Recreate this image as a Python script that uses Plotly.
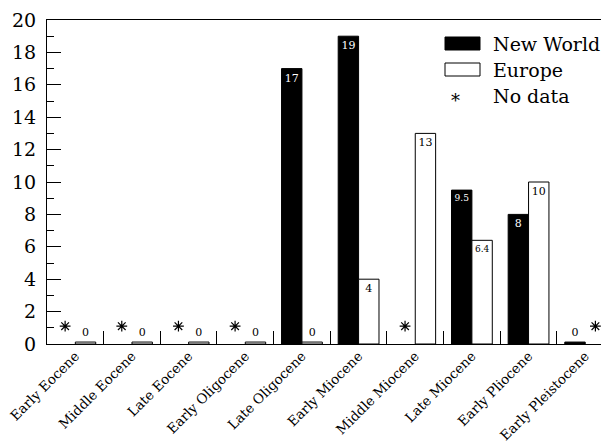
import plotly.graph_objects as go

categories = ["Early Eocene", "Middle Eocene", "Late Eocene", "Early Oligocene",
              "Late Oligocene", "Early Miocene", "Middle Miocene", "Late Miocene",
              "Early Pliocene", "Early Pleistocene"]
new_world = [None, None, None, None, 17, 19, None, 9.5, 8, 0]
europe = [0, 0, 0, 0, 0, 4, 13, 6.4, 10, None]
y_ticks = [0, 2, 4, 6, 8, 10, 12, 14, 16, 18, 20]

FONT = "DejaVu Serif"
OFF = 8  # page body margin of the browser
W, H = 609 - OFF, 447 - OFF
L, T, B = 47 - OFF, 20 - OFF, 447 - 344
PW, PH = W - L, H - T - B
ZERO_VIS = 0.12  # visual minimum height for zero-valued bars

def px2paper(x, y):
    # x, y in page pixels of the target
    return (x - OFF - L) / PW, (H - B - (y - OFF)) / PH

def fmt(v):
    return f"{v:g}"

xs = list(range(len(categories)))
fig = go.Figure()

def bar_trace(vals, color, txtcol, name, group):
    show_x, show_y, texts, pos = [], [], [], []
    for i, v in enumerate(vals):
        if v is None:
            continue
        show_x.append(i)
        show_y.append(v if v > 0 else ZERO_VIS)
        texts.append(fmt(v))
        pos.append("inside" if v > 0 else "outside")
    return go.Bar(x=show_x, y=show_y, text=texts, textposition=pos,
                  insidetextanchor="end", name=name, offsetgroup=group,
                  marker=dict(color=color, line=dict(color="black", width=1)),
                  insidetextfont=dict(color=txtcol, family=FONT, size=11),
                  outsidetextfont=dict(color="black", family=FONT, size=11),
                  textangle=0, cliponaxis=False, showlegend=False,
                  hoverinfo="skip")

fig.add_trace(bar_trace(new_world, "black", "white", "New World", "nw"))
fig.add_trace(bar_trace(europe, "white", "black", "Europe", "eu"))

# No-data markers: placed in the slot of the missing series
half = (1 - 0.28) / 4
nd_x = [i - half for i, v in enumerate(new_world) if v is None] + \
       [i + half for i, v in enumerate(europe) if v is None]
fig.add_trace(go.Scatter(x=nd_x, y=[1.1] * len(nd_x), mode="markers",
                         marker=dict(symbol="asterisk-open", size=9, color="black",
                                     line=dict(color="black", width=1.2)),
                         showlegend=False, hoverinfo="skip", cliponaxis=False))

fig.update_layout(
    width=W, height=H, margin=dict(l=L, r=0, t=T, b=B, autoexpand=False),
    paper_bgcolor="white", plot_bgcolor="white",
    barmode="group", bargap=0.28, bargroupgap=0,
    font=dict(family=FONT, color="black"),
    xaxis=dict(range=[-0.5, 9.42], tickmode="array", tickvals=xs,
               ticktext=categories, tickangle=-45, ticks="", automargin=False,
               tickfont=dict(size=13.5, family=FONT), ticklabelstandoff=-2,
               ticklabeloverflow="allow",
               showline=True, linecolor="black", linewidth=1, mirror=True,
               showgrid=False, zeroline=False,
               minor=dict(tickmode="array", tickvals=[i + 0.5 for i in xs],
                          ticks="inside", ticklen=13, tickcolor="black",
                          tickwidth=1, showgrid=False)),
    yaxis=dict(range=[0, 20], tickmode="array", tickvals=y_ticks,
               ticks="inside", ticklen=14, tickcolor="black", automargin=False,
               tickfont=dict(size=19, family=FONT), ticklabelstandoff=6,
               showline=True, linecolor="black", linewidth=1,
               showgrid=False, zeroline=False,
               minor=dict(tickmode="array", tickvals=list(range(1, 20, 2)),
                          ticks="inside", ticklen=7, tickcolor="black",
                          showgrid=False)),
)

# Legend drawn manually
x0, y0 = px2paper(445, 37); x1, y1 = px2paper(480, 50)
fig.add_shape(type="rect", xref="paper", yref="paper", x0=x0, x1=x1, y0=y1, y1=y0,
              fillcolor="black", line=dict(color="black", width=1))
x0, y0 = px2paper(445, 63); x1, y1 = px2paper(480, 76)
fig.add_shape(type="rect", xref="paper", yref="paper", x0=x0, x1=x1, y0=y1, y1=y0,
              fillcolor="white", line=dict(color="black", width=1))
ax, ay = px2paper(462, 97)
fig.add_annotation(x=ax, y=ay, xref="paper", yref="paper", text="*",
                   showarrow=False, yshift=9, font=dict(size=18, family=FONT))
for label, yy in [("New World", 44), ("Europe", 70), ("No data", 96)]:
    lx, ly = px2paper(491, yy)
    fig.add_annotation(x=lx, y=ly, xref="paper", yref="paper", text=label,
                       xanchor="left", yanchor="middle", showarrow=False,
                       font=dict(size=19, family=FONT))

fig.write_html("out.html")
